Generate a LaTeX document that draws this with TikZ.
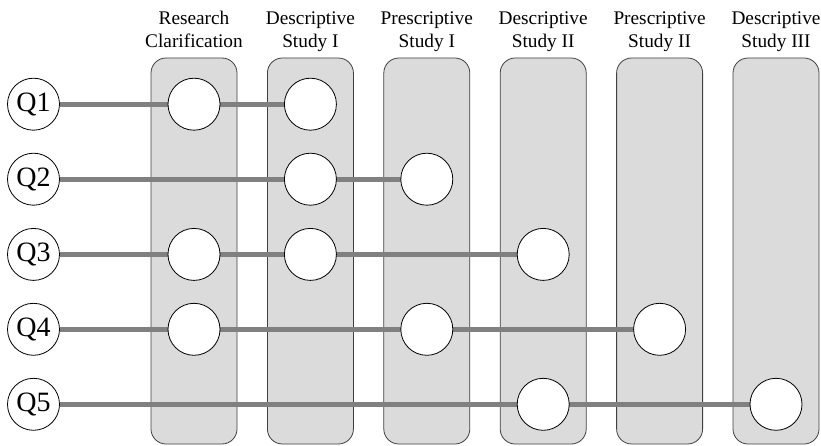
\documentclass[tikz,border=0pt]{standalone}
\usepackage{fontspec}
\setmainfont{Liberation Serif}
\pgfdeclarelayer{boxes}
\pgfdeclarelayer{links}
\pgfsetlayers{boxes,links,main}
\begin{document}
\begin{tikzpicture}[x=1pt,y=1pt,
  stage/.style={draw=black!75, fill=black!14, rounded corners=15pt, line width=0.8pt,
    minimum width=86pt, minimum height=386pt, inner sep=0pt},
  dot/.style={circle, draw=black, fill=white, minimum size=52pt, inner sep=0pt, line width=0.8pt},
  qdot/.style={dot, font=\fontsize{28}{28}\selectfont},
  link/.style={draw=black!50, line width=5pt},
  title/.style={align=center, font=\fontsize{19.3}{23}\selectfont, anchor=base}]
\useasboundingbox (0,0) rectangle (821,445);
% stage columns
\begin{pgfonlayer}{boxes}
\foreach \i/\x in {1/194,2/310.4,3/426.8,4/543.2,5/659.6,6/776}{
  \node[stage] (s\i) at (\x,194) {};
}
\end{pgfonlayer}
% titles
\node[title] (t1) at (194,397.5) {Research\\Clarification};
\node[title] (t2) at (310.4,397.5) {Descriptive\\Study I};
\node[title] (t3) at (426.8,397.5) {Prescriptive\\Study I};
\node[title] (t4) at (543.2,397.5) {Descriptive\\Study II};
\node[title] (t5) at (659.6,397.5) {Prescriptive\\Study II};
\node[title] (t6) at (776,397.5) {Descriptive\\Study III};
% question nodes
\node[qdot] (q1) at (33.5,340.8) {Q1};
\node[qdot] (q2) at (33.5,265.8) {Q2};
\node[qdot] (q3) at (33.5,190.6) {Q3};
\node[qdot] (q4) at (33.5,115.7) {Q4};
\node[qdot] (q5) at (33.5,40.7) {Q5};
% stage circles
\node[dot] (a11) at (194,340.8) {};
\node[dot] (a12) at (310.4,340.8) {};
\node[dot] (a22) at (310.4,265.8) {};
\node[dot] (a23) at (426.8,265.8) {};
\node[dot] (a31) at (194,190.6) {};
\node[dot] (a32) at (310.4,190.6) {};
\node[dot] (a34) at (543.2,190.6) {};
\node[dot] (a41) at (194,115.7) {};
\node[dot] (a43) at (426.8,115.7) {};
\node[dot] (a45) at (659.6,115.7) {};
\node[dot] (a54) at (543.2,40.7) {};
\node[dot] (a56) at (776,40.7) {};
% links
\begin{pgfonlayer}{links}
\draw[link] (q1) -- (a11.center) -- (a12.center);
\draw[link] (q2) -- (a22.center) -- (a23.center);
\draw[link] (q3) -- (a31.center) -- (a32.center) -- (a34.center);
\draw[link] (q4) -- (a41.center) -- (a43.center) -- (a45.center);
\draw[link] (q5) -- (a54.center) -- (a56.center);
\end{pgfonlayer}
\end{tikzpicture}
\end{document}
